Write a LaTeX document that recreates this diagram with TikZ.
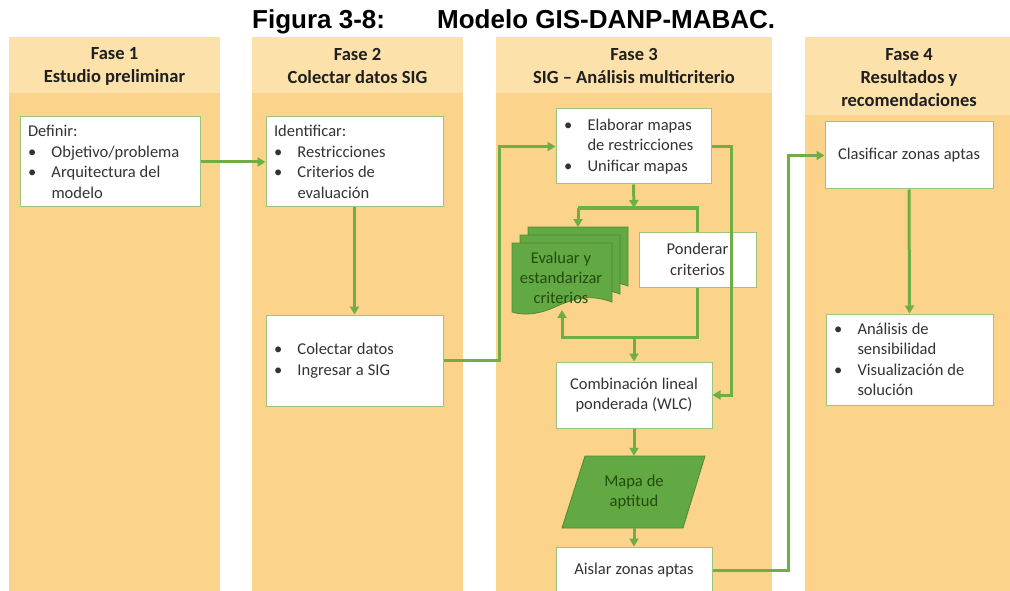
\documentclass[tikz,border=0pt]{standalone}
\usepackage{fontspec}
\setmainfont{Carlito}
\newfontfamily\titlefont{Liberation Sans}
\usetikzlibrary{arrows.meta}
\definecolor{phbody}{HTML}{FCD38B}
\definecolor{phhead}{HTML}{FCE1AA}
\definecolor{lgreen}{HTML}{70AD47}
\definecolor{bgreen}{HTML}{9CC47C}
\definecolor{sgreen}{HTML}{62A843}
\definecolor{sdark}{HTML}{4E8A33}
\definecolor{tgreen}{HTML}{234D0E}
\definecolor{txt}{HTML}{333333}
\newcommand{\bl}[1]{\makebox[23.5pt][l]{\textbullet}#1}
\newcommand{\ind}[1]{\hspace*{23.5pt}#1}
\newcommand{\fixsp}{\spaceskip=0.24em\relax}
\tikzset{
  phbodystyle/.style={fill=phbody, draw=none},
  phheadstyle/.style={fill=phhead, draw=none},
  headtext/.style={font=\bfseries\fontsize{18.5}{23}\selectfont, text=black!88, align=center},
  wbox/.style={draw=bgreen, line width=1pt, fill=white, inner sep=0pt,
    font=\fontsize{16.5}{20.5}\selectfont, text=txt, execute at begin node=\fixsp},
  listbox/.style={wbox, align=left, inner xsep=8pt},
  conn/.style={draw=lgreen, line width=3pt},
  arr/.style={conn, -{Triangle[length=8pt,width=9pt]}},
  shp/.style={fill=sgreen, draw=sdark, line width=0.8pt},
  shptext/.style={font=\fontsize{16.5}{20}\selectfont, text=tgreen, align=center, execute at begin node=\fixsp},
}
\begin{document}
\begin{tikzpicture}[x=1pt,y=-1pt]
\useasboundingbox (0,0) rectangle (1010,591);
\fill[white] (0,0) rectangle (1010,591);
% title
\node[anchor=base west, inner sep=0pt, font=\titlefont\bfseries\fontsize{26}{30}\selectfont] (t1) at (252,29) {Figura 3-8:};
\node[anchor=base west, inner sep=0pt, font=\titlefont\bfseries\fontsize{26}{30}\selectfont] (t2) at (437,29) {Modelo GIS-DANP-MABAC.};
% phase columns
\fill[phbodystyle] (9,93) rectangle (220,591);
\fill[phheadstyle] (9,37) rectangle (220,93);
\fill[phbodystyle] (252,93) rectangle (463,591);
\fill[phheadstyle] (252,37) rectangle (463,93);
\fill[phbodystyle] (496,93) rectangle (772,591);
\fill[phheadstyle] (496,37) rectangle (772,93);
\fill[phbodystyle] (805,115) rectangle (1010,591);
\fill[phheadstyle] (805,37) rectangle (1010,115);
\node[headtext] (h1) at (114.5,66) {Fase 1\\Estudio preliminar};
\node[headtext] (h2) at (357.5,66) {Fase 2\\Colectar datos SIG};
\node[headtext] (h3) at (634,66) {Fase 3\\SIG -- Análisis multicriterio};
\node[headtext] (h4) at (909,77.5) {Fase 4\\Resultados y\\recomendaciones};
% boxes
\node[listbox, minimum width=180pt, minimum height=90pt, text width=164pt] (A) at (110,162)
  {Definir:\\ \bl{Objetivo/problema}\\ \bl{Arquitectura del}\\ \ind{modelo}};
\node[listbox, minimum width=177pt, minimum height=90pt, text width=161pt] (B) at (354.5,162)
  {Identificar:\\ \bl{Restricciones}\\ \bl{Criterios de}\\ \ind{evaluación}};
\node[listbox, minimum width=177pt, minimum height=91pt, text width=161pt] (C) at (354.5,360.5)
  {\bl{Colectar datos}\\ \bl{Ingresar a SIG}};
\node[listbox, minimum width=155pt, minimum height=75pt, text width=139pt] (D) at (633.5,146.5)
  {\bl{Elaborar mapas}\\ \ind{de restricciones}\\ \bl{Unificar mapas}};
\node[wbox, align=center, minimum width=117pt, minimum height=55pt] (P) at (697.5,259.5)
  {Ponderar\\criterios};
\node[wbox, align=center, minimum width=156pt, minimum height=66pt] (W) at (634,395)
  {Combinación lineal\\ponderada (WLC)};
\node[wbox, align=center, minimum width=156pt, minimum height=46pt] (I) at (634,570)
  {Aislar zonas aptas};
\node[wbox, align=center, minimum width=168pt, minimum height=67pt] (K) at (909,155.5)
  {Clasificar zonas aptas};
\node[listbox, minimum width=167pt, minimum height=91pt, text width=151pt] (N) at (909.5,359.5)
  {\bl{Análisis de}\\ \ind{sensibilidad}\\ \bl{Visualización de}\\ \ind{solución}};
% multi-document stack
\foreach \o in {16,8,0} {
  \path[shp] ({512+\o},{243-\o}) -- ({612+\o},{243-\o}) -- ({612+\o},{302-\o})
    .. controls ({590+\o},{294-\o}) and ({575+\o},{298-\o}) .. ({555+\o},{307-\o})
    .. controls ({540+\o},{314-\o}) and ({525+\o},{316-\o}) .. ({512+\o},{312-\o}) -- cycle;
}
\node[shptext] (E) at (561,278) {Evaluar y\\estandarizar\\criterios};
\coordinate (Etop) at (578,227);
\coordinate (Ebot) at (562,310);
% parallelogram
\path[shp] (585,456) -- (705,456) -- (683,528) -- (562,528) -- cycle;
\node[shptext, minimum height=72pt, inner sep=0pt] (M) at (634,492) {Mapa de\\aptitud};
% connectors
\coordinate (split) at (634,208);
\coordinate (join) at (634,337);
\draw[arr] (A.east) -- (B.west);
\draw[arr] (B.south) -- (C.north);
\draw[arr] (C.east) -- ++(56,0) |- (D.west);
\draw[arr] (D.east) -- ++(20,0) |- (W.east);
\draw[arr] (D.south) -- (split);
\draw[conn] (Etop |- split) -- (P.north |- split) -- (P.north);
\draw[arr] (Etop |- split) -- (Etop);
\draw[arr] (P.south) |- (Ebot |- join) -- (Ebot);
\draw[arr] (join) -- (W.north);
\draw[arr] (W.south) -- (M.north);
\draw[arr] (M.south) -- (I.north);
\draw[arr] (I.east) -- (788,570) |- (K.west);
\draw[arr] (K.south) -- (N.north);
\end{tikzpicture}
\end{document}
